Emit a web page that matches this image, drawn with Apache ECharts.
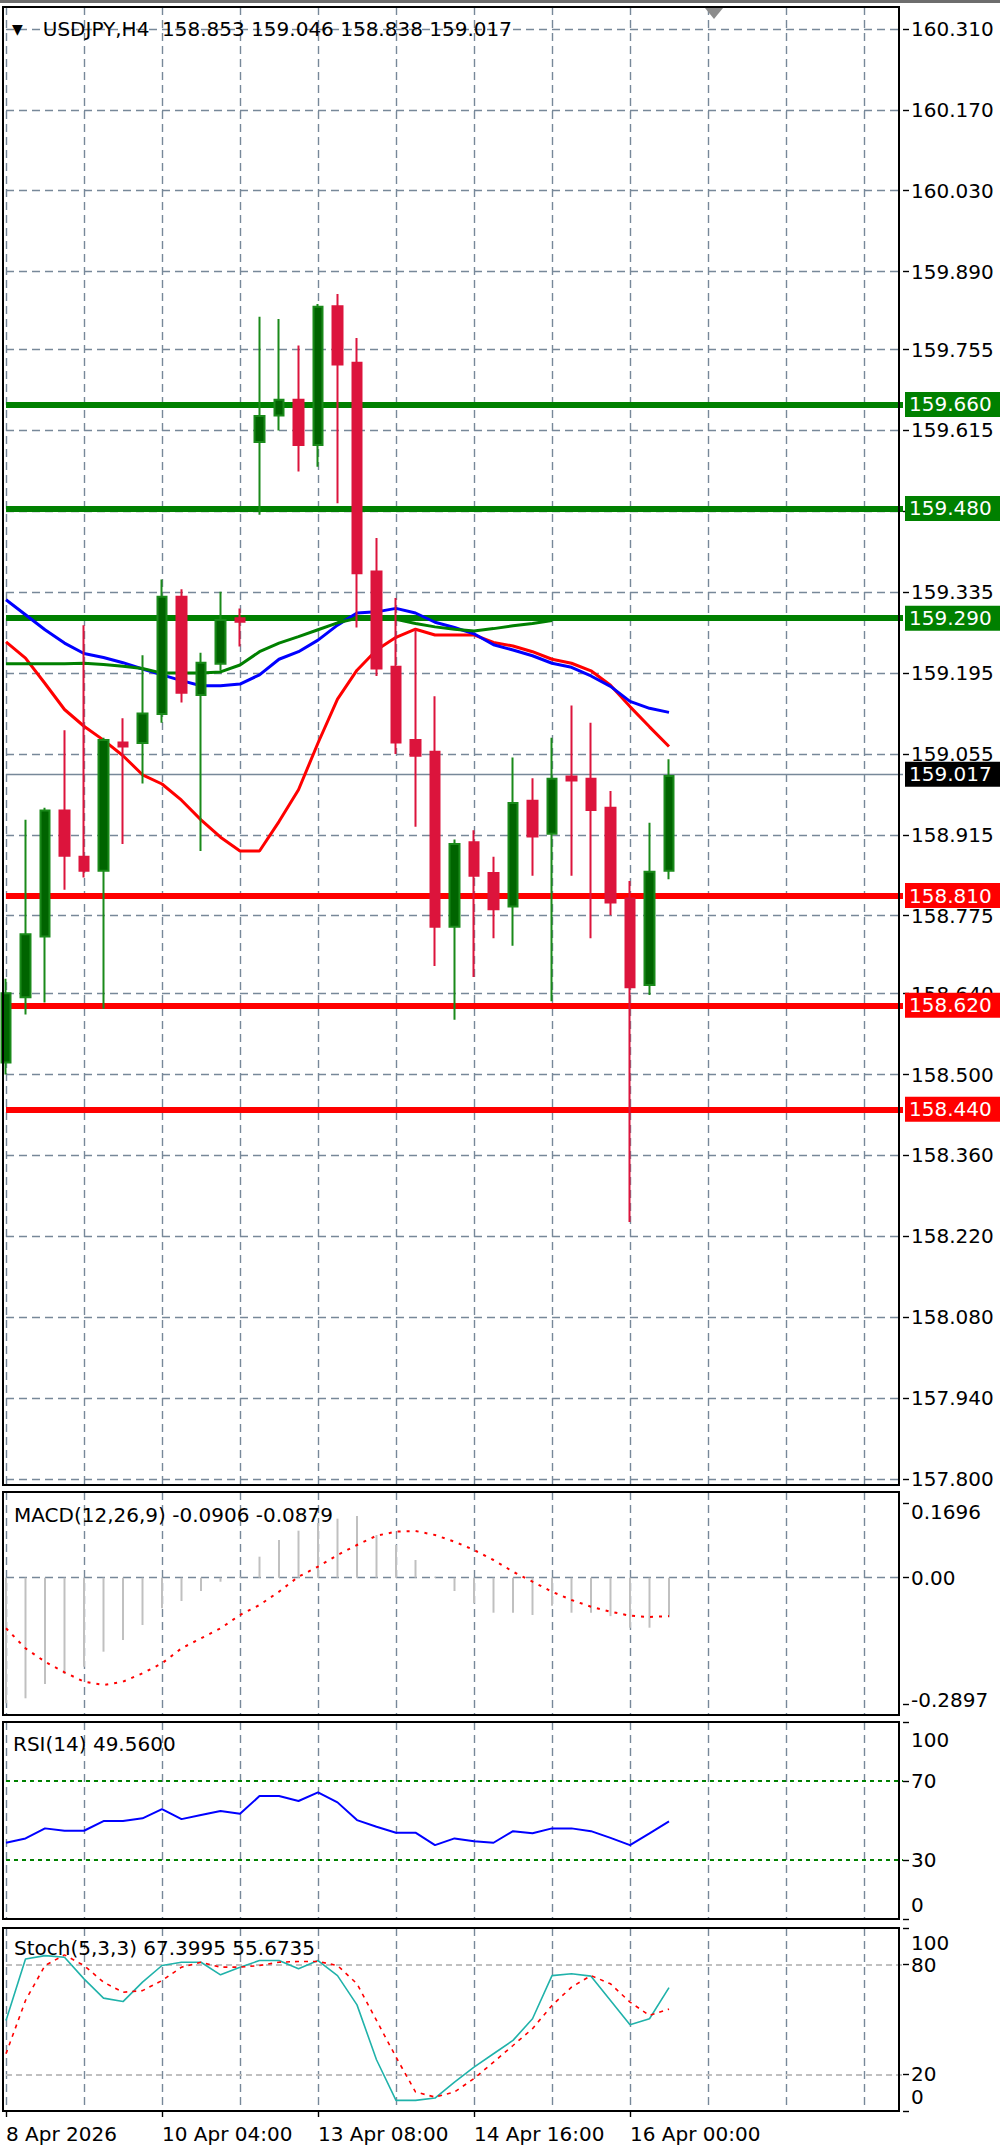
<!DOCTYPE html>
<html>
<head>
<meta charset="utf-8">
<script src="https://cdn.jsdelivr.net/npm/echarts@6/dist/echarts.min.js"></script>
<style>html,body{margin:0;padding:0;background:#fff}#c{width:1000px;height:2151px}</style>
</head>
<body>
<div id="c"></div>
<script>
// ---------------- DATA ----------------
const categories = [
'2026.04.08 20:00','2026.04.09 00:00','2026.04.09 04:00','2026.04.09 08:00','2026.04.09 12:00',
'2026.04.09 16:00','2026.04.09 20:00','2026.04.10 00:00','2026.04.10 04:00','2026.04.10 08:00',
'2026.04.10 12:00','2026.04.10 16:00','2026.04.10 20:00','2026.04.12 20:00','2026.04.13 00:00',
'2026.04.13 04:00','2026.04.13 08:00','2026.04.13 12:00','2026.04.13 16:00','2026.04.13 20:00',
'2026.04.14 00:00','2026.04.14 04:00','2026.04.14 08:00','2026.04.14 12:00','2026.04.14 16:00',
'2026.04.14 20:00','2026.04.15 00:00','2026.04.15 04:00','2026.04.15 08:00','2026.04.15 12:00',
'2026.04.15 16:00','2026.04.15 20:00','2026.04.16 00:00','2026.04.16 04:00','2026.04.16 08:00'
];
const openP  = [158.521,158.634,158.739,158.957,158.877,158.853,159.075,159.074,159.124,159.327,159.157,159.211,159.290,159.595,159.641,159.668,159.590,159.830,159.732,159.371,159.206,159.079,159.059,158.756,158.902,158.849,158.791,158.974,158.917,159.016,159.012,158.962,158.805,158.655,158.853];
const highP  = [158.666,158.941,158.962,159.096,159.278,159.083,159.117,159.226,159.357,159.340,159.230,159.336,159.307,159.812,159.808,159.762,159.834,159.851,159.775,159.429,159.325,159.271,159.155,158.907,158.923,158.877,159.049,159.013,159.083,159.139,159.109,158.991,158.835,158.936,159.046];
const lowP   = [158.500,158.604,158.625,158.820,158.841,158.614,158.899,159.004,159.109,159.144,158.887,159.199,159.241,159.469,159.615,159.544,159.552,159.489,159.274,159.190,159.055,158.929,158.688,158.595,158.669,158.736,158.723,158.844,158.627,158.844,158.736,158.776,158.245,158.638,158.838];
const closeP = [158.641,158.743,158.957,158.879,158.853,159.079,159.068,159.125,159.327,159.161,159.213,159.287,159.284,159.640,159.668,159.590,159.829,159.729,159.368,159.203,159.075,159.052,158.756,158.899,158.844,158.786,158.970,158.912,159.012,159.009,158.958,158.798,158.651,158.851,159.017];

const maRed   = [159.249,159.221,159.177,159.132,159.103,159.079,159.052,159.019,159.003,158.975,158.941,158.911,158.887,158.887,158.938,158.993,159.074,159.150,159.200,159.235,159.257,159.271,159.261,159.261,159.261,159.248,159.242,159.232,159.219,159.212,159.199,159.174,159.137,159.102,159.068];
const maBlue  = [159.322,159.296,159.270,159.247,159.229,159.222,159.213,159.202,159.192,159.182,159.173,159.173,159.176,159.192,159.219,159.232,159.252,159.278,159.299,159.301,159.307,159.299,159.283,159.274,159.263,159.244,159.235,159.225,159.212,159.205,159.190,159.172,159.146,159.134,159.127];
const maGreen = [159.211,159.211,159.211,159.211,159.212,159.210,159.207,159.203,159.195,159.195,159.195,159.197,159.209,159.232,159.247,159.258,159.270,159.282,159.290,159.291,159.288,159.281,159.275,159.271,159.268,159.272,159.277,159.281,159.286];

const greenLevels = [159.660, 159.480, 159.290];
const redLevels   = [158.810, 158.620, 158.440];

const priceTickLabels = ['160.310','160.170','160.030','159.890','159.755','159.615','159.475','159.335','159.195','159.055','158.915','158.775','158.640','158.500','158.360','158.220','158.080','157.940','157.800'];

const macdHist   = [-0.2874,-0.2760,-0.2432,-0.2204,-0.2037,-0.1693,-0.1426,-0.1082,-0.0700,-0.0533,-0.0304,-0.0092,0.0020,0.0481,0.0863,0.1076,0.1250,0.1350,0.1412,0.0977,0.0750,0.0405,0.0023,-0.0304,-0.0586,-0.0801,-0.0801,-0.0854,-0.0640,-0.0801,-0.0801,-0.0880,-0.1144,-0.1144,-0.0906];
const macdSignal = [-0.1158,-0.1616,-0.1922,-0.2165,-0.2380,-0.2455,-0.2380,-0.2188,-0.1959,-0.1616,-0.1387,-0.1158,-0.0854,-0.0625,-0.0320,0.0023,0.0252,0.0519,0.0748,0.0961,0.1053,0.1069,0.0977,0.0824,0.0634,0.0405,0.0137,-0.0092,-0.0320,-0.0510,-0.0664,-0.0778,-0.0870,-0.0900,-0.0879];
const macdTicks  = [0.1696, 0, -0.2897];

const rsi = [38.7,40.9,46.0,44.8,44.8,49.7,49.7,51.1,55.8,50.7,52.8,54.8,53.4,62.4,62.4,59.9,64.3,59.2,50.2,46.8,43.8,43.8,37.5,40.9,39.5,38.7,44.6,43.5,46.0,46.0,44.6,41.2,37.5,43.5,49.56];
const rsiLevels = [70, 30];
const rsiTicks  = [100, 70, 30, 0];

const stochK = [49.5,83.1,84.9,84.0,72.2,61.7,59.8,70.4,79.5,81.3,81.3,74.4,78.6,82.2,82.2,77.7,82.2,74.0,58.0,28.0,5.8,5.8,7.1,15.8,24.0,31.3,38.6,50.4,74.0,75.0,73.7,60.4,47.1,50.4,67.3995];
const stochD = [31.3,60.4,79.5,85.3,79.5,70.4,64.9,65.8,71.3,78.6,81.3,78.6,78.6,79.5,81.3,81.7,81.7,79.5,69.5,49.5,29.5,10.4,7.6,10.4,17.7,26.7,35.8,45.0,57.7,67.7,74.0,69.5,59.5,52.2,55.6735];
const stochLevels = [80, 20];
const stochTicks  = [100, 80, 20, 0];

// ---------------- LAYOUT / STYLE ----------------
const FONT = '"DejaVu Sans", sans-serif';
const GRIDC = '#778899';
const FS = 20;
const EMPTY_SLOTS = 12;
const xSlots = categories.concat(new Array(EMPTY_SLOTS).fill(''));
const L = closeP.length - 1;
const PRICE_MIN = 157.7896, PRICE_MAX = 160.348;
const MACD_MIN = -0.3142, MACD_MAX = 0.1961;
const MON = ['Jan','Feb','Mar','Apr','May','Jun','Jul','Aug','Sep','Oct','Nov','Dec'];

function fmtTime(value, index) {
  if (!value) return '';
  const [d, t] = value.split(' ');
  const [Y, M, D] = d.split('.');
  return index === 0 ? `${+D} ${MON[M - 1]} ${Y}` : `${+D} ${MON[M - 1]} ${t}`;
}
const labelInterval = (index, value) => value !== '' && index % 8 === 0;

function xAxisFor(i, bottom) {
  return {
    type: 'category', gridIndex: i, data: xSlots, boundaryGap: false,
    axisLine: { show: false },
    axisTick: { show: bottom, interval: labelInterval, length: 6, lineStyle: { color: '#000', width: 1.4 } },
    axisLabel: { show: bottom, interval: labelInterval, formatter: fmtTime, align: 'left',
      color: '#000', fontSize: FS, fontFamily: FONT, margin: 13 },
    splitLine: { show: true, interval: 3, lineStyle: { color: GRIDC, type: [8, 5], width: 1.4 } }
  };
}
const txt = { color: '#000', fontSize: FS, fontFamily: FONT };
function subYAxis(i, min, max, ticks, fmt, rich) {
  return {
    type: 'value', gridIndex: i, min, max, position: 'right',
    axisLine: { show: false },
    axisTick: { show: true, customValues: ticks, length: 6, lineStyle: { color: '#000', width: 1.4 } },
    axisLabel: { customValues: ticks, formatter: fmt, ...txt, margin: 8, rich, hideOverlap: false,
      showMinLabel: true, showMaxLabel: true },
    splitLine: { show: false }
  };
}
function boxLabel(bg, v) {
  return { show: true, position: 'end', distance: 2, formatter: () => v.toFixed(3),
    color: '#fff', backgroundColor: bg, fontSize: FS, fontFamily: FONT, lineHeight: 21,
    padding: [2, 14, 2, 4] };
}
function levelLines(vals, color, type, width) {
  return { symbol: 'none', silent: true, animation: false, z: 1, label: { show: false },
    data: vals.map(v => ({ yAxis: v, lineStyle: { color, type, width } })) };
}

const richTB = (top, bot) => ({
  t: { ...txt, padding: [top, 0, 0, 0] },
  b: { ...txt, padding: [0, 0, bot, 0] }
});

const option = {
  animation: false,
  backgroundColor: '#fff',
  grid: [
    { left: 6, right: 97, top: 7, height: 1478 },
    { left: 6, right: 97, top: 1492, height: 223 },
    { left: 6, right: 97, top: 1722, height: 197 },
    { left: 6, right: 97, top: 1928, height: 183 }
  ],
  title: [
    { left: 12, top: 19, padding: 0,
      text: `{tri|▼}USDJPY,H4  ${openP[L].toFixed(3)} ${highP[L].toFixed(3)} ${lowP[L].toFixed(3)} ${closeP[L].toFixed(3)}`,
      textStyle: { ...txt, fontWeight: 'normal', rich: { tri: { fontSize: 14, color: '#000', fontFamily: FONT, padding: [0, 20, 0, 0] } } } },
    { left: 14, top: 1505, padding: 0, text: `MACD(12,26,9) ${macdHist[L].toFixed(4)} ${macdSignal[L].toFixed(4)}`,
      textStyle: { ...txt, fontWeight: 'normal' } },
    { left: 13, top: 1734, padding: 0, text: `RSI(14) ${rsi[L].toFixed(4)}`,
      textStyle: { ...txt, fontWeight: 'normal' } },
    { left: 14, top: 1938, padding: 0, text: `Stoch(5,3,3) ${stochK[L].toFixed(4)} ${stochD[L].toFixed(4)}`,
      textStyle: { ...txt, fontWeight: 'normal' } }
  ],
  xAxis: [xAxisFor(0, false), xAxisFor(1, false), xAxisFor(2, false), xAxisFor(3, true)],
  yAxis: [
    { type: 'value', gridIndex: 0, min: PRICE_MIN, max: PRICE_MAX, position: 'right',
      axisLine: { show: false },
      axisTick: { show: true, customValues: priceTickLabels.map(Number), length: 6, lineStyle: { color: '#000', width: 1.4 } },
      axisLabel: { customValues: priceTickLabels.map(Number), formatter: v => v.toFixed(3), ...txt, margin: 8, hideOverlap: false },
      splitLine: { show: true, lineStyle: { color: GRIDC, type: [8, 5], width: 1.4 } } },
    subYAxis(1, MACD_MIN, MACD_MAX, macdTicks,
      v => v === 0 ? '0.00' : (v > 0 ? '{t|' + v.toFixed(4) + '}' : '{b|' + v.toFixed(4) + '}'), richTB(17, 9)),
    subYAxis(2, 0, 100, rsiTicks,
      v => v === 100 ? '{t|100}' : v === 0 ? '{b|0}' : String(v), richTB(36, 28)),
    subYAxis(3, 0, 100, stochTicks,
      v => v === 100 ? '{t|100}' : v === 0 ? '{b|0}' : String(v), richTB(30, 28))
  ],
  series: [
    { type: 'candlestick', name: 'USDJPY', xAxisIndex: 0, yAxisIndex: 0, z: 3, barWidth: 10, silent: true,
      data: openP.map((o, i) => [o, closeP[i], lowP[i], highP[i]]),
      itemStyle: { color: '#006400', color0: '#dc143c', borderColor: '#1a8a1a', borderColor0: '#dc143c', borderWidth: 2 },
      markLine: { symbol: 'none', silent: true, animation: false, z: 1,
        data: [
          ...greenLevels.map(v => ({ yAxis: v, lineStyle: { color: '#008000', width: 6, type: 'solid' }, label: boxLabel('#008000', v) })),
          ...redLevels.map(v => ({ yAxis: v, lineStyle: { color: '#ff0000', width: 6, type: 'solid' }, label: boxLabel('#ff0000', v) })),
          { yAxis: closeP[L], lineStyle: { color: GRIDC, width: 1.4, type: 'solid' }, label: boxLabel('#000', closeP[L]) }
        ] } },
    { type: 'line', name: 'MA red', xAxisIndex: 0, yAxisIndex: 0, z: 2, data: maRed, symbol: 'none', silent: true,
      lineStyle: { color: '#ff0000', width: 3 } },
    { type: 'line', name: 'MA blue', xAxisIndex: 0, yAxisIndex: 0, z: 2, data: maBlue, symbol: 'none', silent: true,
      lineStyle: { color: '#0000ff', width: 3 } },
    { type: 'line', name: 'MA green', xAxisIndex: 0, yAxisIndex: 0, z: 2, data: maGreen, symbol: 'none', silent: true,
      lineStyle: { color: '#008000', width: 3 } },
    { type: 'bar', name: 'MACD', xAxisIndex: 1, yAxisIndex: 1, data: macdHist, barWidth: 2, silent: true,
      itemStyle: { color: '#c0c0c0' },
      markLine: levelLines([0], GRIDC, [8, 5], 1.4) },
    { type: 'line', name: 'Signal', xAxisIndex: 1, yAxisIndex: 1, data: macdSignal, symbol: 'none', silent: true,
      lineStyle: { color: '#ff0000', width: 2, type: [3, 6] } },
    { type: 'line', name: 'RSI', xAxisIndex: 2, yAxisIndex: 2, data: rsi, symbol: 'none', silent: true,
      lineStyle: { color: '#0000ff', width: 2 },
      markLine: levelLines(rsiLevels, '#008000', [4, 4], 2) },
    { type: 'line', name: '%K', xAxisIndex: 3, yAxisIndex: 3, data: stochK, symbol: 'none', silent: true,
      lineStyle: { color: '#20b2aa', width: 1.6 },
      markLine: levelLines(stochLevels, '#c0c0c0', [6, 4], 2) },
    { type: 'line', name: '%D', xAxisIndex: 3, yAxisIndex: 3, data: stochD, symbol: 'none', silent: true,
      lineStyle: { color: '#ff0000', width: 1.6, type: [4, 5] } }
  ],
  graphic: [
    { type: 'rect', z: 100, silent: true, shape: { x: 0, y: 0, width: 1000, height: 3 }, style: { fill: '#6d6d6d' } },
    { type: 'polygon', z: 100, silent: true, shape: { points: [[705, 8], [723, 8], [714, 19]] }, style: { fill: '#8c8c8c' } },
    { type: 'rect', z: 100, silent: true, shape: { x: 3, y: 7, width: 896, height: 1478 }, style: { fill: 'none', stroke: '#000', lineWidth: 2 } },
    { type: 'rect', z: 100, silent: true, shape: { x: 3, y: 1492, width: 896, height: 223 }, style: { fill: 'none', stroke: '#000', lineWidth: 2 } },
    { type: 'rect', z: 100, silent: true, shape: { x: 3, y: 1722, width: 896, height: 197 }, style: { fill: 'none', stroke: '#000', lineWidth: 2 } },
    { type: 'rect', z: 100, silent: true, shape: { x: 3, y: 1928, width: 896, height: 183 }, style: { fill: 'none', stroke: '#000', lineWidth: 2 } }
  ]
};

const chart = echarts.init(document.getElementById('c'), null, { renderer: 'svg', width: 1000, height: 2151 });
chart.setOption(option);
</script>
</body>
</html>
